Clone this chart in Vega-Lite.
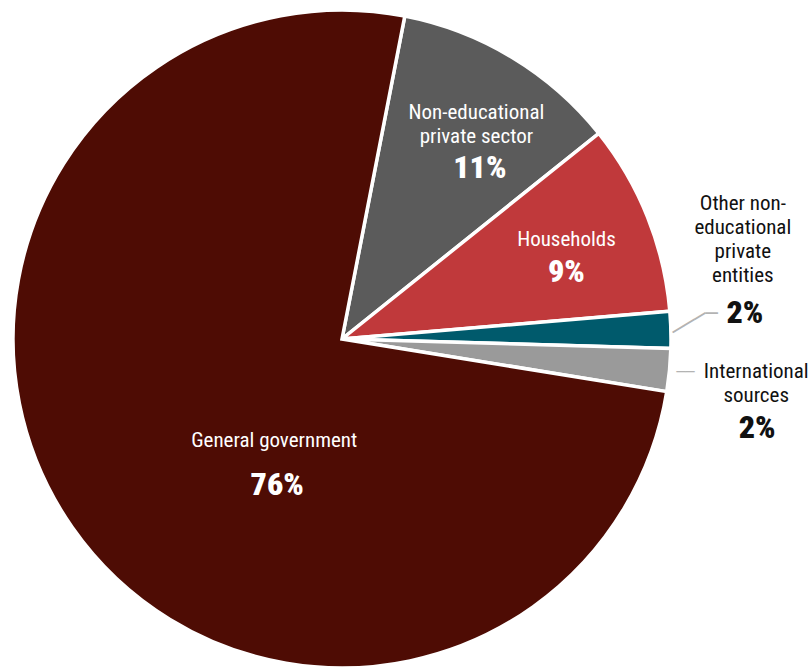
{
  "$schema": "https://vega.github.io/schema/vega-lite/v6.json",
  "width": 684,
  "height": 678,
  "autosize": "none",
  "padding": {"left": 0, "top": 0, "right": 127, "bottom": 0},
  "background": "white",
  "config": {"view": {"stroke": null}},
  "data": {
    "values": [
      {"order": 1, "name": "Non-educational private sector", "label": "Non-educational\nprivate sector", "pct": "11%", "value": 11.2},
      {"order": 2, "name": "Households", "label": "Households", "pct": "9%", "value": 9.4},
      {"order": 3, "name": "Other non-educational private entities", "label": "Other non-\neducational\nprivate\nentities", "pct": "2%", "value": 1.8},
      {"order": 4, "name": "International sources", "label": "International\nsources", "pct": "2%", "value": 2.1},
      {"order": 5, "name": "General government", "label": "General government", "pct": "76%", "value": 75.5}
    ]
  },
  "encoding": {
    "theta": {"field": "value", "type": "quantitative", "stack": true, "scale": {"range": [0.19199, 6.47518]}},
    "order": {"field": "order", "type": "quantitative"}
  },
  "layer": [
    {
      "mark": {"type": "arc", "outerRadius": 329, "stroke": "white", "strokeWidth": 3.5},
      "encoding": {
        "color": {
          "field": "name", "type": "nominal", "legend": null,
          "scale": {
            "domain": ["Non-educational private sector", "Households", "Other non-educational private entities", "International sources", "General government"],
            "range": ["#5b5b5b", "#c0393b", "#005a6c", "#9a9a9a", "#4e0c04"]
          }
        }
      }
    },
    {
      "mark": {"type": "text", "radius": 252, "dx": 4, "dy": -10, "font": "Roboto Condensed, Liberation Sans Narrow, Roboto, sans-serif", "fontSize": 21, "lineHeight": 24, "lineBreak": "\n", "color": "white", "align": "center", "baseline": "middle"},
      "encoding": {"text": {"condition": {"test": "datum.order === 1", "field": "label"}, "value": ""}}
    },
    {
      "mark": {"type": "text", "radius": 220, "dx": 24, "dy": 17, "font": "Roboto Condensed, Liberation Sans Narrow, Roboto, sans-serif", "fontSize": 32, "fontWeight": 900, "color": "white", "align": "center", "baseline": "middle"},
      "encoding": {"text": {"condition": {"test": "datum.order === 1", "field": "pct"}, "value": ""}}
    },
    {
      "mark": {"type": "text", "radius": 246, "dx": -4, "dy": -8, "font": "Roboto Condensed, Liberation Sans Narrow, Roboto, sans-serif", "fontSize": 21, "lineHeight": 24, "lineBreak": "\n", "color": "white", "align": "center", "baseline": "middle"},
      "encoding": {"text": {"condition": {"test": "datum.order === 2", "field": "label"}, "value": ""}}
    },
    {
      "mark": {"type": "text", "radius": 246, "dx": -4, "dy": 24, "font": "Roboto Condensed, Liberation Sans Narrow, Roboto, sans-serif", "fontSize": 32, "fontWeight": 900, "color": "white", "align": "center", "baseline": "middle"},
      "encoding": {"text": {"condition": {"test": "datum.order === 2", "field": "pct"}, "value": ""}}
    },
    {
      "mark": {"type": "text", "radius": 400, "dx": 1, "dy": -124, "font": "Roboto Condensed, Liberation Sans Narrow, Roboto, sans-serif", "fontSize": 21, "lineHeight": 24, "lineBreak": "\n", "color": "#111111", "align": "center", "baseline": "middle"},
      "encoding": {"text": {"condition": {"test": "datum.order === 3", "field": "label"}, "value": ""}}
    },
    {
      "mark": {"type": "text", "radius": 400, "dx": 3, "dy": -15, "font": "Roboto Condensed, Liberation Sans Narrow, Roboto, sans-serif", "fontSize": 32, "fontWeight": 900, "color": "#111111", "align": "center", "baseline": "middle"},
      "encoding": {"text": {"condition": {"test": "datum.order === 3", "field": "pct"}, "value": ""}}
    },
    {
      "mark": {"type": "text", "radius": 404, "dx": 12, "dy": -5, "font": "Roboto Condensed, Liberation Sans Narrow, Roboto, sans-serif", "fontSize": 21, "lineHeight": 24, "lineBreak": "\n", "color": "#111111", "align": "center", "baseline": "middle"},
      "encoding": {"text": {"condition": {"test": "datum.order === 4", "field": "label"}, "value": ""}}
    },
    {
      "mark": {"type": "text", "radius": 404, "dx": 13, "dy": 51, "font": "Roboto Condensed, Liberation Sans Narrow, Roboto, sans-serif", "fontSize": 32, "fontWeight": 900, "color": "#111111", "align": "center", "baseline": "middle"},
      "encoding": {"text": {"condition": {"test": "datum.order === 4", "field": "pct"}, "value": ""}}
    },
    {
      "mark": {"type": "text", "radius": 140, "dx": 47, "dy": 22, "font": "Roboto Condensed, Liberation Sans Narrow, Roboto, sans-serif", "fontSize": 21, "lineHeight": 24, "lineBreak": "\n", "color": "white", "align": "center", "baseline": "middle"},
      "encoding": {"text": {"condition": {"test": "datum.order === 5", "field": "label"}, "value": ""}}
    },
    {
      "mark": {"type": "text", "radius": 140, "dx": 50, "dy": 66, "font": "Roboto Condensed, Liberation Sans Narrow, Roboto, sans-serif", "fontSize": 32, "fontWeight": 900, "color": "white", "align": "center", "baseline": "middle"},
      "encoding": {"text": {"condition": {"test": "datum.order === 5", "field": "pct"}, "value": ""}}
    },
    {
      "mark": {"type": "text", "radius": 350, "dx": 1, "dy": -6, "angle": 329, "font": "DejaVu Sans", "fontSize": 21, "color": "#b3b3b3", "align": "center", "baseline": "middle"},
      "encoding": {"text": {"condition": {"test": "datum.order === 3", "value": "───"}, "value": ""}}
    },
    {
      "mark": {"type": "text", "radius": 370, "dx": 0, "dy": -15, "font": "DejaVu Sans", "fontSize": 20, "color": "#b3b3b3", "align": "center", "baseline": "middle"},
      "encoding": {"text": {"condition": {"test": "datum.order === 3", "value": "─"}, "value": ""}}
    },
    {
      "mark": {"type": "text", "radius": 350, "dx": -5, "dy": 0, "font": "DejaVu Sans", "fontSize": 15, "color": "#b3b3b3", "align": "center", "baseline": "middle"},
      "encoding": {"text": {"condition": {"test": "datum.order === 4", "value": "──"}, "value": ""}}
    }
  ]
}
